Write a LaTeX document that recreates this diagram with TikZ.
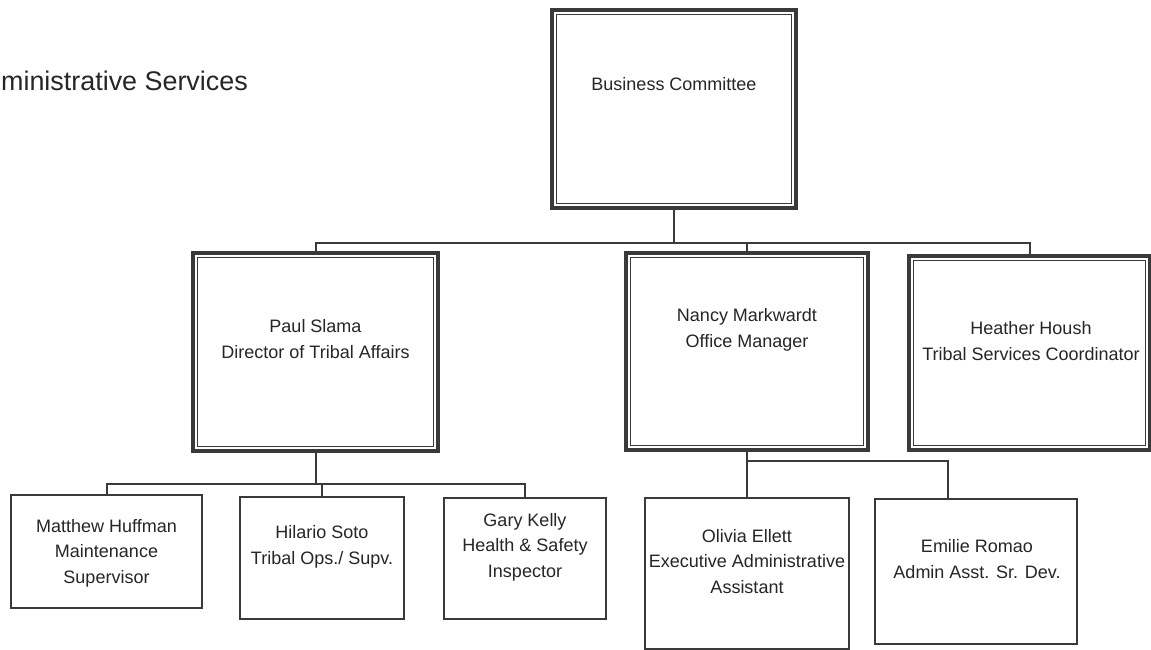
\documentclass[tikz,border=0pt]{standalone}
\usepackage{fontspec}
\setmainfont{Liberation Sans}
\usetikzlibrary{calc}

\definecolor{inkline}{HTML}{3A3A3A}
\definecolor{inktext}{HTML}{262626}

\tikzset{
  box/.style={draw=inkline, line width=2.2pt, rectangle, inner sep=0pt},
  bigbox/.style={draw=inkline, line width=3.2pt, rectangle, inner sep=0pt},
  innerframe/.style={draw=inkline, line width=1.5pt},
  wire/.style={draw=inkline, line width=2pt},
  % base anchor sits on the last line of a multi-line label
  label/.style={text=inktext, align=center, anchor=base, inner sep=0pt,
    font=\fontsize{18}{25.5}\selectfont},
}

\begin{document}
\begin{tikzpicture}[x=1pt, y=-1pt]
  \useasboundingbox (0,0) rectangle (1151,650);
  \clip (0,0) rectangle (1151,650);
  \fill[white] (0,0) rectangle (1151,650);

  % page heading, its first letters run off the left edge
  \node[text=inktext, anchor=base east, inner sep=0pt,
        font=\fontsize{26.9}{30}\selectfont] (heading) at (248,90.5) {Administrative Services};

  % top level
  \node[bigbox, minimum width=244pt, minimum height=198pt] (bc) at (674,109) {};
  \node[label] (bcT) at (674,90.5) {Business Committee};

  % second level
  \node[bigbox, minimum width=245pt, minimum height=198pt] (paul) at (315.5,352) {};
  \node[label] (paulT) at (315.5,358) {Paul Slama\\Director of Tribal Affairs};

  \node[bigbox, minimum width=242pt, minimum height=197pt] (nancy) at (747,351.5) {};
  \node[label] (nancyT) at (747,347) {Nancy Markwardt\\Office Manager};

  \node[bigbox, minimum width=241pt, minimum height=194pt] (heather) at (1029.5,353) {};
  \node[label] (heatherT) at (1031,360) {Heather Housh\\Tribal Services Coordinator};

  % inner frames of the double-ruled boxes
  \foreach \b in {bc,paul,nancy,heather}{
    \draw[innerframe] ($(\b.north west)+(6,6)$) rectangle ($(\b.south east)+(-6,-6)$);
  }

  % third level
  \node[box, minimum width=191pt, minimum height=113pt] (matthew) at (106.5,551.5) {};
  \node[label] (matthewT) at (106.5,583) {Matthew Huffman\\Maintenance\\Supervisor};

  \node[box, minimum width=164pt, minimum height=122pt] (hilario) at (322,558) {};
  \node[label] (hilarioT) at (322,564) {Hilario Soto\\Tribal Ops./ Supv.};

  \node[box, minimum width=162pt, minimum height=121pt] (gary) at (525,558.5) {};
  \node[label] (garyT) at (525,577) {Gary Kelly\\Health \& Safety\\Inspector};

  \node[box, minimum width=204pt, minimum height=151pt] (olivia) at (747,573.5) {};
  \node[label] (oliviaT) at (747,593) {Olivia Ellett\\Executive Administrative\\Assistant};

  \node[box, minimum width=202pt, minimum height=145pt] (emilie) at (976,571.5) {};
  \node[label] (emilieT) at (977,578) {Emilie Romao\\Admin Asst. Sr. Dev.};

  % junction points of the connectors
  \coordinate (topbus) at (674,243);
  \coordinate (paulbus) at (315.5,484);
  \coordinate (nancybus) at (747,461);
  \coordinate (emiliedrop) at ($(emilie.north)+(-28,0)$);

  % connectors
  \draw[wire] (bc.south) -- (topbus);
  \draw[wire] (paul.north) |- (topbus) -| (heather.north);
  \draw[wire] (nancy.north) -- (nancy.north |- topbus);

  \draw[wire] (paul.south) -- (paulbus);
  \draw[wire] (matthew.north) |- (paulbus) -| (gary.north);
  \draw[wire] (hilario.north) -- (hilario.north |- paulbus);

  \draw[wire] (nancy.south) -- (nancybus) -- (olivia.north);
  \draw[wire] (nancybus) -| (emiliedrop);
\end{tikzpicture}
\end{document}
